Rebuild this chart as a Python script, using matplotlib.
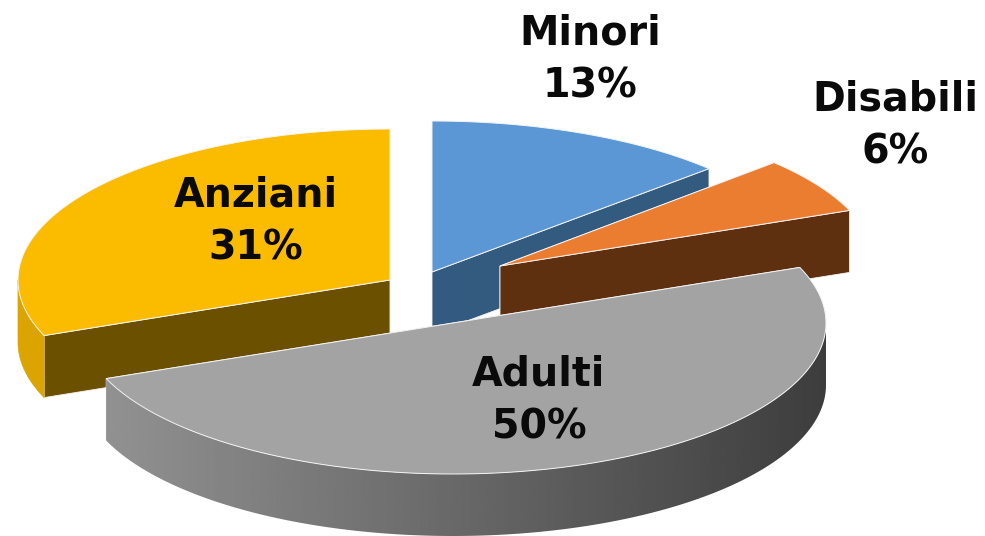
import matplotlib
matplotlib.use("Agg")
import matplotlib.pyplot as plt
import numpy as np
from matplotlib.patches import Polygon, PathPatch
from matplotlib.path import Path

labels = ["Minori", "Disabili", "Adulti", "Anziani"]
values = [13, 6, 50, 31]

# look of each slice
top_colors = ["#5B97D5", "#EB7D31", "#A3A3A3", "#FBBC00"]
cut_colors = ["#335A7F", "#5F3010", "#5A5A5A", "#6B5000"]
rim_colors = ["#335A7F", "#5F3010", None, "#DBA400"]
# apex of each slice after exploding it
centre_x = [432, 500, 453, 390]
centre_y = [272, 266, 323, 280]
radius_x = [380, 376, 373, 372]
label_x = [590, 895, 539, 256]
label_y = [60, 126, 401, 222]

ry, depth = 151, 62
line = "#F4F4F4"

fig = plt.figure(figsize=(9.85, 5.36), dpi=100)
ax = fig.add_axes([0, 0, 1, 1])
ax.set_xlim(0, 985)
ax.set_ylim(536, 0)
ax.axis("off")

# start at 12 o'clock, clockwise
edges = np.cumsum([0] + values) / sum(values) * 2 * np.pi


def rim(i, a, b):
    t = np.linspace(a, b, 150)
    return centre_x[i] + radius_x[i] * np.sin(t), centre_y[i] - ry * np.cos(t)


def draw_slice(i, z):
    a, b = edges[i], edges[i + 1]
    cx, cy = centre_x[i], centre_y[i]
    x, y = rim(i, a, b)

    # cut faces, the one further back first
    for t in sorted((a, b), key=lambda t: -np.cos(t)):
        px = cx + radius_x[i] * np.sin(t)
        py = cy - ry * np.cos(t)
        pts = [(cx, cy), (px, py), (px, py + depth), (cx, cy + depth)]
        ax.add_patch(Polygon(pts, fc=cut_colors[i], ec=line, lw=0.6, zorder=z))
        z += 0.01

    # outer wall, only the part facing the viewer
    lo, hi = max(a, np.pi / 2), min(b, 3 * np.pi / 2)
    if lo < hi:
        wx, wy = rim(i, lo, hi)
        pts = list(zip(wx, wy)) + list(zip(wx[::-1], wy[::-1] + depth))
        if rim_colors[i]:
            ax.add_patch(Polygon(pts, fc=rim_colors[i], ec=rim_colors[i], lw=0.5, zorder=z + 0.1))
        else:
            # grey slice has a shaded wall
            shade = np.linspace(0.57, 0.24, 256)[None, :]
            im = ax.imshow(shade, cmap="gray", vmin=0, vmax=1, aspect="auto",
                           extent=[wx.min(), wx.max(), wy.max() + depth, wy.min()],
                           zorder=z + 0.1)
            verts = pts + [pts[0]]
            codes = [Path.MOVETO] + [Path.LINETO] * (len(verts) - 2) + [Path.CLOSEPOLY]
            clip = PathPatch(Path(verts, codes), transform=ax.transData, fc="none", ec="none")
            ax.add_patch(clip)
            im.set_clip_path(clip)

    pts = [(cx, cy)] + list(zip(x, y))
    ax.add_patch(Polygon(pts, fc=top_colors[i], ec=line, lw=0.7, zorder=z + 0.2))


for z, i in enumerate([0, 3, 1, 2]):
    draw_slice(i, z + 1)

ax.set_xlim(0, 985)
ax.set_ylim(536, 0)

for i in range(4):
    ax.text(label_x[i], label_y[i], f"{labels[i]}\n{values[i]}%", ha="center", va="center",
            fontsize=28.5, fontweight="bold", color="#0A0A0A", family="DejaVu Sans",
            linespacing=1.42, zorder=10)

fig.savefig("out.png", dpi=100)
